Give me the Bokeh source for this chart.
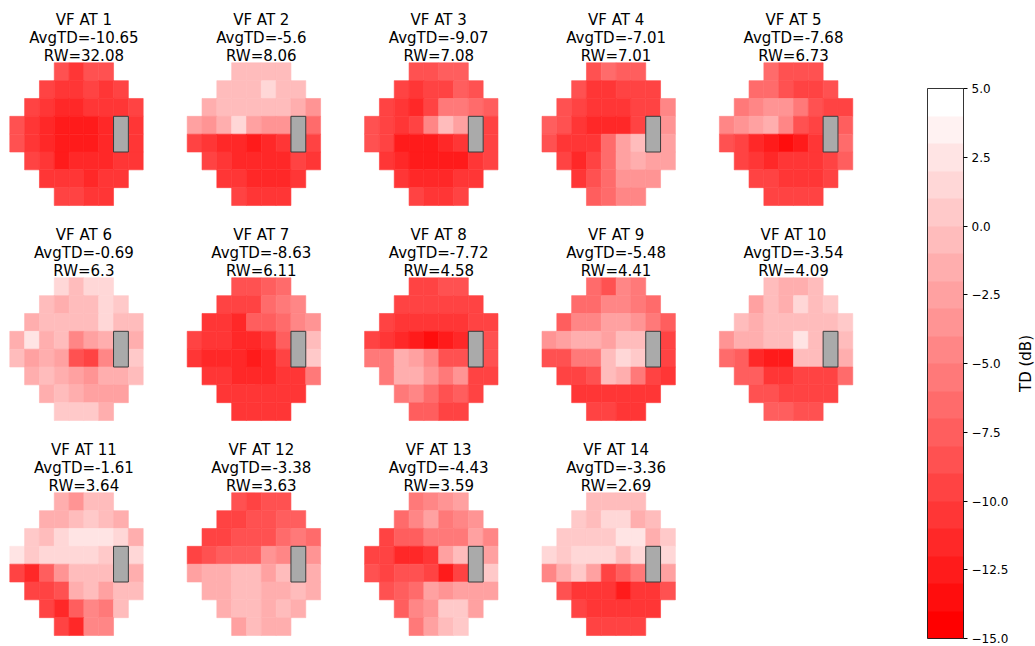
import math
from bokeh.plotting import figure
from bokeh.models import ColumnDataSource, LinearColorMapper, ColorBar, FixedTicker, Range1d
from bokeh.transform import transform
from bokeh.core.properties import value
from bokeh.embed import file_html
from bokeh.resources import INLINE

# ---------------- data ----------------
VF_IDS = list(range(1, 15))
AVG_TD = [-10.65, -5.6, -9.07, -7.01, -7.68, -0.69, -8.63, -7.72, -5.48, -3.54,
          -1.61, -3.38, -4.43, -3.36]
RW = [32.08, 8.06, 7.08, 7.01, 6.73, 6.3, 6.11, 4.58, 4.41, 4.09, 3.64, 3.63, 3.59, 2.69]

# 24-2 layout: first grid column of each row (None = blind spot)
ROW_START = [3, 2, 1, 0, 0, 1, 2, 3]
BLIND_ROWS = [3, 4]
BLIND_COL = 7

TD_LEVELS = [-15, -12.5, -10, -7.5, -5, -2.5, 0, 2.5, 5]
N_BANDS = 20

vf1 = [[-9, -11, -9, -9],
       [-10, -11, -11, -10, -11, -10],
       [-10, -11, -12, -12, -11, -11, -11, -10],
       [-9, -11, -12, -13, -13, -13, -12, None, -11],
       [-9, -11, -12, -13, -13, -13, -12, None, -11],
       [-10, -11, -13, -12, -12, -12, -11, -11],
       [-11, -11, -11, -12, -11, -11],
       [-10, -10, -11, -11]]
vf2 = [[-1, -1, -1, -1],
       [-1, -1, -1, 1, -1, -1],
       [-2, -1, -1, -1, -1, -1, -2, -4],
       [-3, -4, -2, 1, -3, -4, -4, None, -7],
       [-10, -11, -12, -12, -13, -12, -11, None, -10],
       [-10, -11, -12, -12, -12, -12, -10, -11],
       [-11, -11, -12, -12, -12, -11],
       [-10, -11, -11, -11]]
vf3 = [[-9, -9, -8, -8],
       [-10, -11, -10, -10, -8, -9],
       [-10, -11, -12, -10, -6, -6, -7, -8],
       [-9, -10, -11, -10, -5, -1, -3, None, -10],
       [-9, -10, -13, -13, -13, -12, -11, None, -10],
       [-11, -12, -13, -13, -13, -13, -11, -10],
       [-11, -12, -12, -12, -11, -11],
       [-10, -11, -11, -10]]
vf4 = [[-9, -7, -8, -8],
       [-9, -11, -11, -10, -10, -10],
       [-9, -10, -11, -11, -11, -10, -10, -5],
       [-8, -9, -11, -12, -12, -12, -10, None, -4],
       [-9, -11, -11, -11, -7, -3, -1, None, -3],
       [-10, -12, -10, -7, -3, -2, -3, -3],
       [-11, -9, -7, -4, -4, -4],
       [-8, -7, -5, -5]]
vf5 = [[-7, -9, -9, -9],
       [-7, -7, -9, -10, -10, -9],
       [-6, -5, -4, -4, -6, -9, -10, -10],
       [-5, -4, -3, -2, -5, -9, -10, None, -8],
       [-9, -10, -12, -13, -14, -13, -11, None, -7],
       [-10, -11, -12, -11, -11, -11, -10, -8],
       [-10, -10, -11, -11, -11, -10],
       [-10, -10, -10, -10]]
vf6 = [[1, -1, 1, 1],
       [-1, -2, -1, -1, 1, 0],
       [-2, -1, -1, -1, -1, 1, -1, -1],
       [-2, 2, -2, -1, -5, -3, -2, None, -2],
       [-1, -3, -2, -3, -9, -10, -5, None, 0],
       [-2, -1, -2, -3, -4, -2, -2, -1],
       [-2, -1, -2, -3, -3, -3],
       [0, 0, 0, -2]]
vf7 = [[-9, -9, -8, -7],
       [-10, -10, -10, -7, -6, -5],
       [-11, -11, -12, -8, -8, -7, -5, -4],
       [-10, -11, -11, -12, -12, -11, -8, None, -1],
       [-11, -12, -12, -12, -13, -12, -10, None, 0],
       [-11, -11, -12, -12, -12, -11, -11, -6],
       [-11, -11, -11, -11, -11, -11],
       [-11, -11, -11, -11]]
vf8 = [[-10, -10, -9, -9],
       [-10, -10, -10, -10, -10, -10],
       [-10, -11, -11, -11, -11, -11, -10, -10],
       [-10, -11, -12, -13, -14, -13, -12, None, -9],
       [-6, -6, -2, -3, -5, -9, -9, None, -9],
       [-6, -2, -2, -4, -6, -4, -10, -10],
       [-6, -5, -7, -9, -8, -10],
       [-8, -8, -10, -10]]
vf9 = [[-7, -9, -5, -6],
       [-7, -7, -5, -5, -6, -7],
       [-8, -5, -5, -3, -3, -4, -6, -8],
       [-4, -3, -2, -2, -3, -1, -1, None, -10],
       [-9, -9, -6, -6, -1, 1, 0, None, -10],
       [-10, -10, -9, -1, -2, -6, -10, -11],
       [-11, -11, -11, -11, -11, -11],
       [-10, -10, -11, -11]]
vf10 = [[-1, -2, -2, -1],
        [-3, -1, -2, 1, -1, 0],
        [-1, -2, -1, -1, -1, -1, -1, 0],
        [-4, -2, -2, -1, -1, 2, -1, None, -1],
        [-7, -8, -12, -13, -13, -1, -1, None, -2],
        [-8, -8, -11, -11, -10, -10, -10, -7],
        [-9, -9, -10, -10, -10, -10],
        [-8, -8, -9, -9]]
vf11 = [[-2, -4, -1, -1],
        [-2, -2, -1, 0, -1, -2],
        [0, -1, 1, 2, 2, 2, 1, -2],
        [2, 0, 1, 1, 1, 1, 0, None, 1],
        [-10, -12, -8, -4, -1, -1, -1, None, -2],
        [-10, -10, -9, -2, -1, -3, -1, -1],
        [-10, -12, -8, -5, -6, -1],
        [-10, -12, -5, -5]]
vf12 = [[-9, -10, -9, -9],
        [-10, -10, -9, -9, -8, -8],
        [-10, -10, -9, -9, -9, -7, -6, -7],
        [-10, -9, -8, -8, -8, -4, -5, None, -4],
        [-3, -2, -2, -1, -1, -3, -1, None, -2],
        [-2, -2, -1, -1, -2, -2, -1, -2],
        [-2, -1, -1, -2, -1, -2],
        [-3, -1, -2, -2]]
vf13 = [[-6, -5, -4, -3],
        [-7, -5, -3, -6, -5, -4],
        [-10, -8, -8, -6, -6, -6, -3, -5],
        [-10, -10, -12, -12, -11, -3, -1, None, -3],
        [-9, -10, -9, -9, -10, -13, -10, None, 0],
        [-9, -8, -7, -3, -4, -3, -3, -3],
        [-8, -5, -4, 0, 0, -3],
        [-6, -3, -1, 0]]
vf14 = [[-1, -1, -1, -1],
        [0, -1, 1, 1, -2, -1],
        [0, 0, 0, 0, 2, 2, -2, 0],
        [1, 0, 1, 1, 1, -1, 1, None, 1],
        [-5, -2, 0, -3, -10, -8, -6, None, -3],
        [-9, -11, -11, -11, -13, -11, -11, -9],
        [-10, -11, -11, -11, -11, -11],
        [-10, -10, -10, -10]]
PANELS = [vf1, vf2, vf3, vf4, vf5, vf6, vf7, vf8, vf9, vf10, vf11, vf12, vf13, vf14]

# ---------------- layout (canvas pixel units) ----------------
W, H = 1035, 646
CELL_W, CELL_H = 14.82, 17.84
X0, Y0 = 9.3, 62.3
PANEL_DX, PANEL_DY = 177.4, 215.0
N_COLS = 5
LINE_GAP = 18.0

cx, cy, td = [], [], []
bx, by = [], []
tx, t1y, t2y, t3y, t1, t2, t3 = [], [], [], [], [], [], []
for k, grid in enumerate(PANELS):
    pr, pc = divmod(k, N_COLS)
    ox = X0 + pc * PANEL_DX
    oy = Y0 + pr * PANEL_DY
    for r, rowvals in enumerate(grid):
        for j, v in enumerate(rowvals):
            if v is None:
                continue
            col = ROW_START[r] + j
            cx.append(ox + (col + 0.5) * CELL_W)
            cy.append(oy + (r + 0.5) * CELL_H)
            td.append(v + 1e-6)
    bx.append(ox + (BLIND_COL + 0.5) * CELL_W)
    by.append(oy + (BLIND_ROWS[0] + 1) * CELL_H)
    tx.append(ox + 5 * CELL_W)
    t3y.append(oy - 7.2)
    t2y.append(oy - 7.2 - LINE_GAP)
    t1y.append(oy - 7.2 - 2 * LINE_GAP)
    t1.append(f"VF AT {VF_IDS[k]}")
    t2.append(f"AvgTD={AVG_TD[k]}")
    t3.append(f"RW={RW[k]}")

palette = []
for i in range(N_BANDS):
    g = round(255 * i / (N_BANDS - 1))
    palette.append("#ff%02x%02x" % (g, g))

mapper = LinearColorMapper(palette=palette, low=TD_LEVELS[0], high=TD_LEVELS[-1])

p = figure(width=W, height=H, x_range=Range1d(0, W), y_range=Range1d(H, 0),
           x_axis_location=None, y_axis_location=None, toolbar_location=None,
           output_backend="svg", min_border=0, outline_line_color=None)
p.grid.visible = False

cells = ColumnDataSource(dict(x=cx, y=cy, td=td))
p.rect(x="x", y="y", width=CELL_W, height=CELL_H, source=cells,
       fill_color=transform("td", mapper), line_color=transform("td", mapper),
       line_width=0.6)

p.rect(x=bx, y=by, width=CELL_W, height=2 * CELL_H, fill_color="#aaaaaa",
       line_color="#3a3a3a", line_width=1)

for ys, ts in ((t1y, t1), (t2y, t2), (t3y, t3)):
    p.text(x=tx, y=ys, text=ts, text_align="center", text_baseline="alphabetic",
           text_font=value("DejaVu Sans"), text_font_size="15px", text_color="#000000")

labels = {t: ("%.1f" % t).replace("-", "\u2212") for t in TD_LEVELS}
cb = ColorBar(color_mapper=mapper, orientation="vertical", location=(927, 8),
              width=36, height=550, padding=0, title=None,
              ticker=FixedTicker(ticks=TD_LEVELS), major_label_overrides=labels,
              major_label_text_font="DejaVu Sans",
              major_label_text_font_size="12px", major_label_text_color="#000000",
              major_tick_line_color="#000000", major_tick_in=0, major_tick_out=4,
              minor_tick_line_color=None, label_standoff=4,
              bar_line_color="#000000", bar_line_width=0.8,
              background_fill_alpha=0, border_line_color=None)
p.add_layout(cb)

p.text(x=[1025], y=[363], text=["TD (dB)"], angle=math.pi / 2, text_align="center",
       text_baseline="middle", text_font=value("DejaVu Sans"), text_font_size="15px",
       text_color="#000000")

open("out.html", "w").write(file_html(p, INLINE))
